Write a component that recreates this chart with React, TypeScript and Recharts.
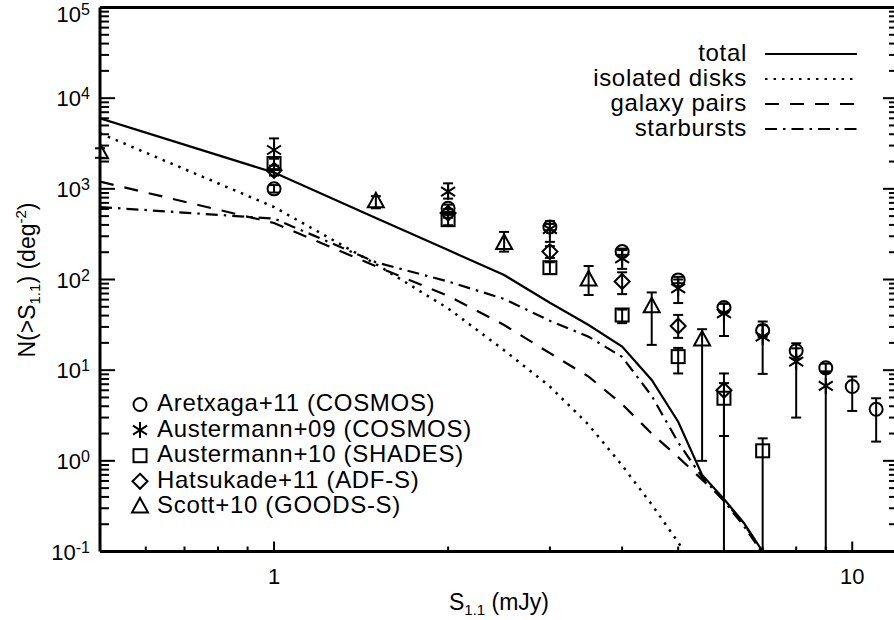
import { ComposedChart, Line, Scatter, XAxis, YAxis, ErrorBar } from 'recharts';

const W = 900;
const H = 620;
const FONT = '"Liberation Sans", Arial, Helvetica, sans-serif';
const FLOOR = 0.1; // bottom of the y range; error bars reaching it go down to the axis

// model number counts, sampled every 0.5 mJy
const modelS = [0.5, 1, 1.5, 2, 2.5, 3, 3.5, 4, 4.5, 5, 5.5, 6, 6.5, 7];
const totalN = [6000, 1510, 476, 211, 112, 55.4, 31.5, 18.2, 7.8, 2.7, 0.7, 0.38, 0.205, 0.1];
const disksN = [4100, 630, 148, 48, 16.6, 6.6, 2.5, 0.89, 0.33, 0.126, 0.05, null, null, null];
const pairsN = [1200, 420, 140, 66, 31.5, 15.4, 8.5, 4.2, 2.0, 1.1, 0.62, 0.37, 0.2, 0.1];
const burstsN = [630, 470, 155, 95, 61, 35, 23.4, 14, 5.2, 1.6, 0.66, 0.36, 0.19, 0.095];

// observed counts: flux, N, lower error, upper error
const aretxagaS = [1, 2, 3, 4, 5, 6, 7, 8, 9, 10, 11];
const aretxagaN = [1000, 610, 380, 203, 99, 49, 27.3, 16.4, 10.6, 6.6, 3.7];
const aretxagaLo = [90, 50, 30, 16, 8, 5, 4, 3, 1.2, 3.05, 2.07];
const aretxagaHi = [100, 60, 30, 16, 8, 5, 4, 3.4, 1.2, 1.9, 1.2];

const auster09S = [1, 2, 3, 4, 5, 6, 7, 8, 9];
const auster09N = [2680, 930, 360, 171, 80, 42.4, 23.4, 12.4, 6.7];
const auster09Lo = [500, 150, 100, 40, 25, 18.6, 14.3, 9.4, 6.6];
const auster09Hi = [920, 220, 80, 40, 20, 12, 11, 5, 3];

const auster10S = [1, 2, 3, 4, 5, 6, 7];
const auster10N = [1900, 457, 135, 40.6, 14.1, 4.9, 1.29];
const auster10Lo = [250, 60, 20, 7.6, 4.9, 4.8, 1.19];
const auster10Hi = [250, 60, 20, 6, 3.5, 2.3, 0.48];

const hatsuS = [1, 2, 3, 4, 5, 6];
const hatsuN = [1600, 540, 203, 95, 30.7, 6.0];
const hatsuLo = [200, 60, 30, 26, 8, 4.12];
const hatsuHi = [200, 60, 30, 25, 10, 3.2];

const scottS = [0.5, 1.5, 2.5, 3.5, 4.5, 5.5];
const scottN = [2500, 720, 250, 99, 50, 21.5];
const scottLo = [300, 110, 47, 31.5, 31, 20.5];
const scottHi = [300, 110, 85, 42, 22, 6.8];

const xMajor = [1, 10];
const xMinor = [0.6, 0.7, 0.8, 0.9, 2, 3, 4, 5, 6, 7, 8, 9];
const yMajor = [0.1, 1, 10, 100, 1000, 10000, 100000];
const yMinorSteps = [2, 3, 4, 5, 6, 7, 8, 9];

const xTicks = [...xMajor, ...xMinor].sort((a, b) => a - b);
const yTicks = [
  ...yMajor,
  ...yMajor.slice(0, -1).flatMap((d) => yMinorSteps.map((m) => +(d * m).toPrecision(3))),
].sort((a, b) => a - b);

const modelData = modelS.map((s, i) => ({
  s,
  total: totalN[i],
  disks: disksN[i],
  pairs: pairsN[i],
  bursts: burstsN[i],
}));

const toPoints = (s: number[], n: number[], lo: number[], hi: number[]) =>
  s.map((x, i) => ({ s: x, n: n[i], err: [Math.min(lo[i], n[i] - FLOOR), hi[i]] }));

const aretxagaData = toPoints(aretxagaS, aretxagaN, aretxagaLo, aretxagaHi);
const auster09Data = toPoints(auster09S, auster09N, auster09Lo, auster09Hi);
const auster10Data = toPoints(auster10S, auster10N, auster10Lo, auster10Hi);
const hatsuData = toPoints(hatsuS, hatsuN, hatsuLo, hatsuHi);
const scottData = toPoints(scottS, scottN, scottLo, scottHi);

type Kind = 'circle' | 'asterisk' | 'square' | 'diamond' | 'triangle';

function Marker({ kind, cx, cy, clip }: { kind: Kind; cx: number; cy: number; clip?: string }) {
  const st = { fill: 'none', stroke: '#000', strokeWidth: 2 };
  let mark;
  if (kind === 'circle') mark = <circle cx={cx} cy={cy} r={6.5} {...st} />;
  else if (kind === 'square') mark = <rect x={cx - 6.5} y={cy - 6.5} width={13} height={13} {...st} />;
  else if (kind === 'diamond')
    mark = <polygon points={`${cx},${cy - 7.5} ${cx + 7.5},${cy} ${cx},${cy + 7.5} ${cx - 7.5},${cy}`} {...st} />;
  else if (kind === 'triangle')
    mark = <polygon points={`${cx},${cy - 9} ${cx + 8},${cy + 5.5} ${cx - 8},${cy + 5.5}`} {...st} />;
  else
    mark = (
      <path
        d={`M${cx},${cy - 8}V${cy + 8}M${cx - 7},${cy - 4.5}L${cx + 7},${cy + 4.5}M${cx - 7},${cy + 4.5}L${cx + 7},${cy - 4.5}`}
        {...st}
      />
    );
  return <g clipPath={clip}>{mark}</g>;
}

const shapeOf = (kind: Kind) => (p: any) => <Marker kind={kind} cx={p.cx} cy={p.cy} clip="url(#plot-area)" />;

type Side = 'left' | 'right' | 'top' | 'bottom';

function AxisTick({ x = 0, y = 0, payload, side }: { x?: number; y?: number; payload?: { value: number }; side: Side }) {
  const v = payload ? payload.value : 0;
  const vertical = side === 'left' || side === 'right';
  const major = vertical ? yMajor.includes(v) : xMajor.includes(v);
  const len = vertical ? (major ? 15 : 9) : major ? 10 : 5;
  let x2 = x;
  let y2 = y;
  if (side === 'left') x2 = x + len;
  if (side === 'right') x2 = x - len;
  if (side === 'bottom') y2 = y - len;
  if (side === 'top') y2 = y + len;
  return (
    <g>
      <line x1={x} y1={y} x2={x2} y2={y2} stroke="#000" strokeWidth={2} />
      {major && side === 'left' && (
        <text x={x - 10} y={Math.max(y, 14) + 8} textAnchor="end" fontSize={22} fontFamily={FONT} fill="#000">
          10
          <tspan dy={-7} fontSize={16}>
            {Math.round(Math.log10(v))}
          </tspan>
        </text>
      )}
      {major && side === 'bottom' && (
        <text x={x} y={y + 32} textAnchor="middle" fontSize={22} fontFamily={FONT} fill="#000">
          {v}
        </text>
      )}
    </g>
  );
}

const lineLegend = [
  { label: 'total', dash: undefined },
  { label: 'isolated disks', dash: '2.5 6' },
  { label: 'galaxy pairs', dash: '14 11' },
  { label: 'starbursts', dash: '12 6 2.5 6' },
];

const symbolLegend: { kind: Kind; label: string }[] = [
  { kind: 'circle', label: 'Aretxaga+11 (COSMOS)' },
  { kind: 'asterisk', label: 'Austermann+09 (COSMOS)' },
  { kind: 'square', label: 'Austermann+10 (SHADES)' },
  { kind: 'diamond', label: 'Hatsukade+11 (ADF-S)' },
  { kind: 'triangle', label: 'Scott+10 (GOODS-S)' },
];

export default function App() {
  const axisLine = { stroke: '#000', strokeWidth: 3 };
  const xCommon = {
    type: 'number' as const,
    scale: 'log' as const,
    domain: [0.5, 12],
    allowDataOverflow: true,
    ticks: xTicks,
    interval: 0,
    tickSize: 0,
    tickMargin: 0,
    tickLine: false,
    axisLine,
    height: 1,
  };
  const yCommon = {
    type: 'number' as const,
    scale: 'log' as const,
    domain: [0.1, 100000],
    allowDataOverflow: true,
    ticks: yTicks,
    interval: 0,
    tickSize: 0,
    tickMargin: 0,
    tickLine: false,
    axisLine,
    width: 1,
  };
  const ebar = { dataKey: 'err', direction: 'y' as const, width: 5, stroke: '#000', strokeWidth: 2 };
  const legendText = { fontSize: 24, fontFamily: FONT, fill: '#000', letterSpacing: 0.7 };

  return (
    <div
      style={{
        position: 'absolute',
        left: 0,
        top: 0,
        width: 894,
        height: 620,
        overflow: 'hidden',
        background: '#fff',
        fontFamily: FONT,
      }}
    >
      <ComposedChart width={W} height={H} data={modelData} margin={{ top: 6.5, right: 1, bottom: 67.5, left: 99 }}>
        <XAxis dataKey="s" {...xCommon} tick={(p: any) => <AxisTick {...p} side="bottom" />} />
        <XAxis xAxisId="top" orientation="top" {...xCommon} tick={(p: any) => <AxisTick {...p} side="top" />} />
        <YAxis {...yCommon} tick={(p: any) => <AxisTick {...p} side="left" />} />
        <YAxis yAxisId="right" orientation="right" {...yCommon} tick={(p: any) => <AxisTick {...p} side="right" />} />

        <Line dataKey="total" stroke="#000" strokeWidth={2.2} dot={false} isAnimationActive={false} />
        <Line dataKey="disks" stroke="#000" strokeWidth={2.5} strokeDasharray="2.5 6" dot={false} isAnimationActive={false} />
        <Line dataKey="pairs" stroke="#000" strokeWidth={2.2} strokeDasharray="14 11" dot={false} isAnimationActive={false} />
        <Line dataKey="bursts" stroke="#000" strokeWidth={2.2} strokeDasharray="12 6 2.5 6" dot={false} isAnimationActive={false} />

        <Scatter data={aretxagaData} dataKey="n" shape={shapeOf('circle')} isAnimationActive={false}>
          <ErrorBar {...ebar} />
        </Scatter>
        <Scatter data={auster09Data} dataKey="n" shape={shapeOf('asterisk')} isAnimationActive={false}>
          <ErrorBar {...ebar} />
        </Scatter>
        <Scatter data={auster10Data} dataKey="n" shape={shapeOf('square')} isAnimationActive={false}>
          <ErrorBar {...ebar} />
        </Scatter>
        <Scatter data={hatsuData} dataKey="n" shape={shapeOf('diamond')} isAnimationActive={false}>
          <ErrorBar {...ebar} />
        </Scatter>
        <Scatter data={scottData} dataKey="n" shape={shapeOf('triangle')} isAnimationActive={false}>
          <ErrorBar {...ebar} />
        </Scatter>
      </ComposedChart>

      <svg width={894} height={620} style={{ position: 'absolute', left: 0, top: 0, pointerEvents: 'none' }}>
        <defs>
          <clipPath id="plot-area" clipPathUnits="userSpaceOnUse">
            <rect x={100} y={7.5} width={798} height={544} />
          </clipPath>
        </defs>
        {lineLegend.map((d, i) => (
          <g key={d.label}>
            <text x={747} y={61 + i * 25} textAnchor="end" {...legendText}>
              {d.label}
            </text>
            <line x1={765} x2={857} y1={54 + i * 25} y2={54 + i * 25} stroke="#000" strokeWidth={2.2} strokeDasharray={d.dash} />
          </g>
        ))}
        {symbolLegend.map((d, i) => (
          <g key={d.label}>
            <Marker kind={d.kind} cx={140} cy={404.5 + i * 25.6} />
            <text x={157} y={411 + i * 25.6} {...legendText}>
              {d.label}
            </text>
          </g>
        ))}
        <text x={499} y={610} textAnchor="middle" fontSize={23} fontFamily={FONT} fill="#000">
          S<tspan dy={5} fontSize={15}>1.1</tspan>
          <tspan dy={-5}> (mJy)</tspan>
        </text>
        <text x={35} y={280} transform="rotate(-90 35 280)" textAnchor="middle" fontSize={23} fontFamily={FONT} fill="#000">
          N(&gt;S<tspan dy={5} fontSize={15}>1.1</tspan>
          <tspan dy={-5}>) (deg</tspan>
          <tspan dy={-9} fontSize={15}>-2</tspan>
          <tspan dy={9}>)</tspan>
        </text>
      </svg>
    </div>
  );
}
